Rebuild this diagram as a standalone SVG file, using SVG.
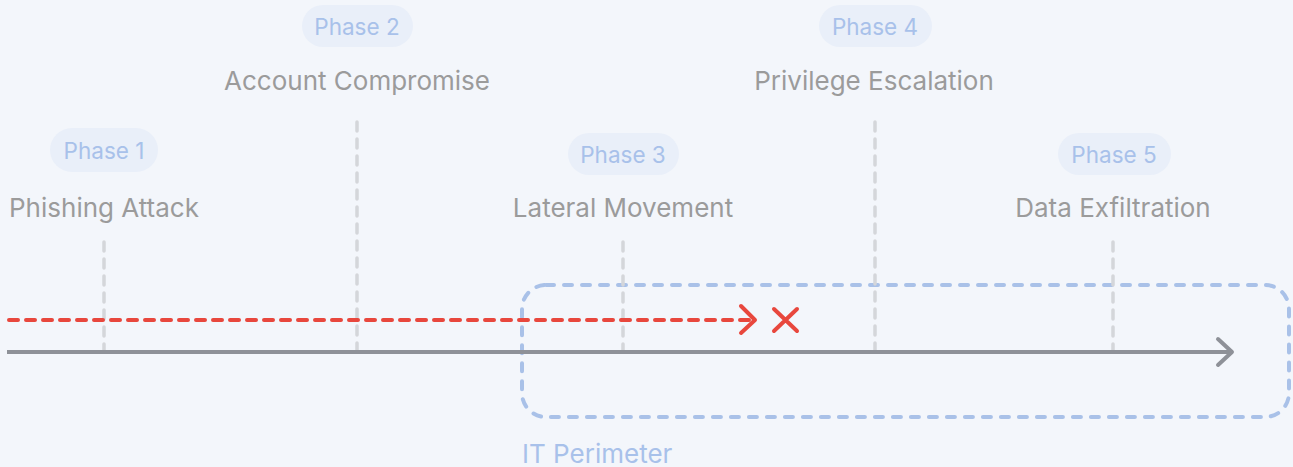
<svg xmlns="http://www.w3.org/2000/svg" width="1293" height="467" viewBox="0 0 1293 467">
<style>
.pill{fill:#E9EFF9}
.ph{font-family:Inter,"Liberation Sans",sans-serif;font-size:22.5px;fill:#A8C1EA;text-anchor:middle}
.tt{font-family:Inter,"Liberation Sans",sans-serif;font-size:26px;fill:#9B9B9B;text-anchor:middle}
.vl{stroke:#D4D6DA;stroke-width:3.5;stroke-dasharray:9 8;stroke-linecap:round;fill:none}
</style>
<rect width="1293" height="467" fill="#F3F6FB"/>
<g id="perimeter">
<rect x="522" y="285" width="767" height="132" rx="24" fill="none" stroke="#A9C1E8" stroke-width="4" stroke-dasharray="8 10" stroke-linecap="round"/>
<text x="522" y="463" font-family="Inter,'Liberation Sans',sans-serif" font-size="26" fill="#A8C1EA">IT Perimeter</text>
</g>
<g id="connectors">
<line class="vl" x1="104" y1="242" x2="104" y2="350"/>
<line class="vl" x1="357" y1="122" x2="357" y2="350"/>
<line class="vl" x1="623" y1="242" x2="623" y2="350"/>
<line class="vl" x1="875" y1="122" x2="875" y2="350"/>
<line class="vl" x1="1113" y1="242" x2="1113" y2="350"/>
<line x1="7" y1="352" x2="1230" y2="352" stroke="#8E9198" stroke-width="4"/>
<polyline points="1218,339 1232,352 1218,365" fill="none" stroke="#8E9198" stroke-width="4" stroke-linecap="round" stroke-linejoin="round"/>
<line x1="9" y1="320" x2="752" y2="320" stroke="#E8473D" stroke-width="4" stroke-dasharray="9 8" stroke-linecap="round"/>
<polyline points="741,306 755,320 741,333" fill="none" stroke="#E8473D" stroke-width="4" stroke-linecap="round" stroke-linejoin="round"/>
<path d="M774,309 L797,331 M797,309 L774,331" stroke="#E8473D" stroke-width="4" stroke-linecap="round"/>
</g>
<g id="phase1">
<rect class="pill" x="50" y="128" width="108" height="44" rx="22"/>
<text class="ph" x="104" y="159">Phase 1</text>
<text class="tt" x="104" y="217">Phishing Attack</text>
</g>
<g id="phase2">
<rect class="pill" x="302" y="5" width="111" height="42" rx="21"/>
<text class="ph" x="357" y="35">Phase 2</text>
<text class="tt" x="357" y="90">Account Compromise</text>
</g>
<g id="phase3">
<rect class="pill" x="568" y="133" width="111" height="42" rx="21"/>
<text class="ph" x="623" y="163">Phase 3</text>
<text class="tt" x="623" y="217">Lateral Movement</text>
</g>
<g id="phase4">
<rect class="pill" x="819" y="5" width="113" height="42" rx="21"/>
<text class="ph" x="875" y="35">Phase 4</text>
<text class="tt" x="874" y="90">Privilege Escalation</text>
</g>
<g id="phase5">
<rect class="pill" x="1058" y="133" width="113" height="42" rx="21"/>
<text class="ph" x="1114" y="163">Phase 5</text>
<text class="tt" x="1113" y="217">Data Exfiltration</text>
</g>
</svg>
